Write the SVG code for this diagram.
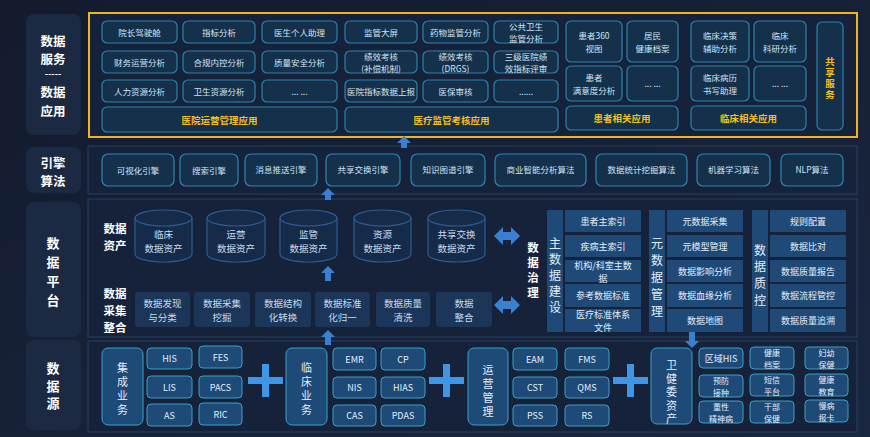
<svg xmlns="http://www.w3.org/2000/svg" width="870" height="437" viewBox="0 0 870 437">
<defs>
<linearGradient id="bg" x1="0" y1="0" x2="1" y2="1">
<stop offset="0" stop-color="#131b2d"/>
<stop offset="1" stop-color="#1a2741"/>
</linearGradient>
<style>
text{font-family:"Noto Sans CJK SC","Noto Sans",sans-serif;text-anchor:middle;dominant-baseline:central}
.v{writing-mode:vertical-rl}
.lbl{fill:#1b2a42}
.lt{fill:#ffffff;font-size:12.5px;font-weight:bold}
.lv{fill:#ffffff;font-size:13px;font-weight:bold}
.lt2{fill:#ffffff;font-size:11.5px;font-weight:bold}
.frame{fill:#16223a;stroke:#26405f;stroke-width:1}
.tb{fill:#15304b;stroke:#2a82ac;stroke-width:1.2}
.tt{fill:#cfe3f3;font-size:8.5px}
.yt{fill:#f4c01e;font-size:9.5px;font-weight:bold}
.eb{fill:#15304b;stroke:#2a86b2;stroke-width:1.2}
.cyl{fill:#162a4a;stroke:#2e5c90;stroke-width:1.2}
.ct{fill:#c9dcef;font-size:9.5px}
.pb{fill:#1b3658}
.pt{fill:#c9dcef;font-size:9.5px}
.gb{fill:#1f4a78}
.gt{fill:#e3eef8;font-size:9px}
.vt{fill:#e3eef8;font-size:12px}
.vs{fill:#e3eef8;font-size:11px}
.sb{fill:#1e4a78;stroke:#3a9fc8;stroke-width:1}
.st{fill:#e3eef8;font-size:9px}
.st2{fill:#e3eef8;font-size:8px}
.arr{fill:#3b7fd0}
.plus{fill:#3f96e6}
</style>
</defs>
<rect width="870" height="437" fill="url(#bg)"/>

<!-- left labels -->
<g id="label-service">
<rect class="lbl" x="26" y="14" width="55" height="121" rx="8"/>
<text class="lt" x="53" y="40"><tspan x="53" dy="0">数据</tspan><tspan x="53" dy="18.2">服务</tspan><tspan x="53" dy="15" style="font-size:9px">-----</tspan><tspan x="53" dy="18.2">数据</tspan><tspan x="53" dy="18.2">应用</tspan></text>
</g>
<g id="label-engine">
<rect class="lbl" x="26" y="147" width="55" height="46" rx="8"/>
<text class="lt" x="53" y="161.5"><tspan x="53" dy="0">引擎</tspan><tspan x="53" dy="18.2">算法</tspan></text>
</g>
<g id="label-platform">
<rect class="lbl" x="26" y="202" width="55" height="135" rx="8"/>
<text class="lv v" x="53" y="274.5" style="letter-spacing:6px">数据平台</text>
</g>
<g id="label-source">
<rect class="lbl" x="26" y="340" width="55" height="90" rx="8"/>
<text class="lv v" x="53" y="388" style="letter-spacing:4.5px">数据源</text>
</g>

<!-- frames -->
<rect class="frame" x="88" y="146" width="769" height="48"/>
<rect class="frame" x="88" y="199" width="769" height="138"/>
<rect class="frame" x="88" y="341" width="769" height="91"/>
<rect x="89" y="13" width="768" height="124" fill="#16223a" stroke="#f0b323" stroke-width="2"/>

<!-- service section -->
<g id="service">
<g id="s-r1">
<rect class="tb" x="102" y="21" width="75" height="22" rx="5"/><text class="tt" x="139.5" y="32">院长驾驶舱</text>
<rect class="tb" x="183" y="21" width="72" height="22" rx="5"/><text class="tt" x="219" y="32">指标分析</text>
<rect class="tb" x="262" y="21" width="75" height="22" rx="5"/><text class="tt" x="299.5" y="32">医生个人助理</text>
<rect class="tb" x="345" y="21" width="72" height="22" rx="5"/><text class="tt" x="381" y="32">监管大屏</text>
<rect class="tb" x="423" y="21" width="65" height="22" rx="5"/><text class="tt" x="455.5" y="32">药物监管分析</text>
<rect class="tb" x="494" y="21" width="64" height="22" rx="5"/><text class="tt" x="526" y="25.7"><tspan x="526" dy="0">公共卫生</tspan><tspan x="526" dy="12.6">监管分析</tspan></text>
</g>
<g id="s-r2">
<rect class="tb" x="102" y="51" width="75" height="22" rx="5"/><text class="tt" x="139.5" y="62">财务运营分析</text>
<rect class="tb" x="183" y="51" width="72" height="22" rx="5"/><text class="tt" x="219" y="62">合规内控分析</text>
<rect class="tb" x="262" y="51" width="75" height="22" rx="5"/><text class="tt" x="299.5" y="62">质量安全分析</text>
<rect class="tb" x="345" y="51" width="72" height="22" rx="5"/><text class="tt" x="381" y="55.7"><tspan x="381" dy="0">绩效考核</tspan><tspan x="381" dy="12.6">(补偿机制)</tspan></text>
<rect class="tb" x="423" y="51" width="65" height="22" rx="5"/><text class="tt" x="455.5" y="55.7"><tspan x="455.5" dy="0">绩效考核</tspan><tspan x="455.5" dy="12.6">(DRGS)</tspan></text>
<rect class="tb" x="494" y="51" width="64" height="22" rx="5"/><text class="tt" x="526" y="55.7"><tspan x="526" dy="0">三级医院绩</tspan><tspan x="526" dy="12.6">效指标评审</tspan></text>
</g>
<g id="s-r3">
<rect class="tb" x="102" y="80" width="75" height="22" rx="5"/><text class="tt" x="139.5" y="91">人力资源分析</text>
<rect class="tb" x="183" y="80" width="72" height="22" rx="5"/><text class="tt" x="219" y="91">卫生资源分析</text>
<rect class="tb" x="262" y="80" width="75" height="22" rx="5"/><text class="tt" x="299.5" y="91">... ...</text>
<rect class="tb" x="345" y="80" width="72" height="22" rx="5"/><text class="tt" x="381" y="91">医院指标数据上报</text>
<rect class="tb" x="423" y="80" width="65" height="22" rx="5"/><text class="tt" x="455.5" y="91">医保审核</text>
<rect class="tb" x="494" y="80" width="64" height="22" rx="5"/><text class="tt" x="526" y="91">......</text>
</g>
<g id="s-bars">
<rect class="tb" x="102" y="107" width="235" height="25" rx="5"/><text class="yt" x="219.5" y="119.5">医院运营管理应用</text>
<rect class="tb" x="345" y="107" width="213" height="25" rx="5"/><text class="yt" x="451.5" y="119.5">医疗监管考核应用</text>
</g>
<g id="s-patient">
<rect class="tb" x="566" y="21" width="56" height="41" rx="5"/><text class="tt" x="594" y="35"><tspan x="594" dy="0">患者360</tspan><tspan x="594" dy="12.6">视图</tspan></text>
<rect class="tb" x="627" y="21" width="51" height="41" rx="5"/><text class="tt" x="652.5" y="35"><tspan x="652.5" dy="0">居民</tspan><tspan x="652.5" dy="12.6">健康档案</tspan></text>
<rect class="tb" x="566" y="66" width="56" height="35" rx="5"/><text class="tt" x="594" y="77"><tspan x="594" dy="0">患者</tspan><tspan x="594" dy="12.6">满意度分析</tspan></text>
<rect class="tb" x="627" y="66" width="51" height="35" rx="5"/><text class="tt" x="652.5" y="83">... ...</text>
<rect class="tb" x="566" y="106" width="112" height="24" rx="5"/><text class="yt" x="622" y="118">患者相关应用</text>
</g>
<g id="s-clinical">
<rect class="tb" x="691" y="21" width="58" height="41" rx="5"/><text class="tt" x="720" y="35"><tspan x="720" dy="0">临床决策</tspan><tspan x="720" dy="12.6">辅助分析</tspan></text>
<rect class="tb" x="754" y="21" width="52" height="41" rx="5"/><text class="tt" x="780" y="35"><tspan x="780" dy="0">临床</tspan><tspan x="780" dy="12.6">科研分析</tspan></text>
<rect class="tb" x="691" y="66" width="58" height="35" rx="5"/><text class="tt" x="720" y="77"><tspan x="720" dy="0">临床病历</tspan><tspan x="720" dy="12.6">书写助理</tspan></text>
<rect class="tb" x="754" y="66" width="52" height="35" rx="5"/><text class="tt" x="780" y="83">... ...</text>
<rect class="tb" x="691" y="106" width="115" height="24" rx="5"/><text class="yt" x="748.5" y="118">临床相关应用</text>
</g>
<g id="s-shared">
<rect class="tb" x="817" y="22" width="26" height="108" rx="5"/>
<text class="yt v" x="830" y="78.5" style="letter-spacing:1.5px">共享服务</text>
</g>
</g>

<!-- engine row -->
<g id="engine">
<rect class="eb" x="102" y="154" width="72" height="32" rx="6"/><text class="tt" x="138" y="170">可视化引擎</text>
<rect class="eb" x="180" y="154" width="58" height="32" rx="6"/><text class="tt" x="209" y="170">搜索引擎</text>
<rect class="eb" x="245" y="154" width="72" height="32" rx="6"/><text class="tt" x="281" y="169">消息推送引擎</text>
<rect class="eb" x="326" y="154" width="74" height="32" rx="6"/><text class="tt" x="363" y="169">共享交换引擎</text>
<rect class="eb" x="411" y="154" width="74" height="32" rx="6"/><text class="tt" x="448" y="169">知识图谱引擎</text>
<rect class="eb" x="495" y="154" width="91" height="32" rx="6"/><text class="tt" x="540.5" y="169">商业智能分析算法</text>
<rect class="eb" x="596" y="154" width="91" height="32" rx="6"/><text class="tt" x="641.5" y="169">数据统计挖掘算法</text>
<rect class="eb" x="697" y="154" width="73" height="32" rx="6"/><text class="tt" x="733.5" y="169">机器学习算法</text>
<rect class="eb" x="781" y="154" width="62" height="32" rx="6"/><text class="tt" x="812" y="169">NLP算法</text>
</g>

<!-- data assets -->
<g id="assets">
<text class="lt2" x="115" y="228"><tspan x="115" dy="0">数据</tspan><tspan x="115" dy="16.8">资产</tspan></text>
<g id="cyl-1"><path class="cyl" d="M135,218 V254 A28.5,8 0 0 0 192,254 V218"/><ellipse class="cyl" cx="163.5" cy="218" rx="28.5" ry="8"/><text class="ct" x="163.5" y="233.5"><tspan x="163.5" dy="0">临床</tspan><tspan x="163.5" dy="14">数据资产</tspan></text></g>
<g id="cyl-2"><path class="cyl" d="M207,218 V254 A29,8 0 0 0 265,254 V218"/><ellipse class="cyl" cx="236" cy="218" rx="29" ry="8"/><text class="ct" x="236" y="233.5"><tspan x="236" dy="0">运营</tspan><tspan x="236" dy="14">数据资产</tspan></text></g>
<g id="cyl-3"><path class="cyl" d="M280,218 V254 A28.5,8 0 0 0 337,254 V218"/><ellipse class="cyl" cx="308.5" cy="218" rx="28.5" ry="8"/><text class="ct" x="308.5" y="233.5"><tspan x="308.5" dy="0">监管</tspan><tspan x="308.5" dy="14">数据资产</tspan></text></g>
<g id="cyl-4"><path class="cyl" d="M354,218 V254 A28.5,8 0 0 0 411,254 V218"/><ellipse class="cyl" cx="382.5" cy="218" rx="28.5" ry="8"/><text class="ct" x="382.5" y="233.5"><tspan x="382.5" dy="0">资源</tspan><tspan x="382.5" dy="14">数据资产</tspan></text></g>
<g id="cyl-5"><path class="cyl" d="M428,218 V254 A28.5,8 0 0 0 485,254 V218"/><ellipse class="cyl" cx="456.5" cy="218" rx="28.5" ry="8"/><text class="ct" x="456.5" y="233.5"><tspan x="456.5" dy="0">共享交换</tspan><tspan x="456.5" dy="14">数据资产</tspan></text></g>
</g>

<!-- data collection -->
<g id="collect">
<text class="lt2" x="115" y="293"><tspan x="115" dy="0">数据</tspan><tspan x="115" dy="16.8">采集</tspan><tspan x="115" dy="16.8">整合</tspan></text>
<rect class="pb" x="135" y="292" width="55" height="35" rx="3"/><text class="pt" x="162.5" y="302.5"><tspan x="162.5" dy="0">数据发现</tspan><tspan x="162.5" dy="14">与分类</tspan></text>
<rect class="pb" x="194" y="292" width="56" height="35" rx="3"/><text class="pt" x="222" y="302.5"><tspan x="222" dy="0">数据采集</tspan><tspan x="222" dy="14">挖掘</tspan></text>
<rect class="pb" x="255" y="292" width="56" height="35" rx="3"/><text class="pt" x="283" y="302.5"><tspan x="283" dy="0">数据结构</tspan><tspan x="283" dy="14">化转换</tspan></text>
<rect class="pb" x="315" y="292" width="55" height="35" rx="3"/><text class="pt" x="342.5" y="302.5"><tspan x="342.5" dy="0">数据标准</tspan><tspan x="342.5" dy="14">化归一</tspan></text>
<rect class="pb" x="376" y="292" width="54" height="35" rx="3"/><text class="pt" x="403" y="302.5"><tspan x="403" dy="0">数据质量</tspan><tspan x="403" dy="14">清洗</tspan></text>
<rect class="pb" x="436" y="292" width="56" height="35" rx="3"/><text class="pt" x="464" y="302.5"><tspan x="464" dy="0">数据</tspan><tspan x="464" dy="14">整合</tspan></text>
</g>

<!-- governance -->
<g id="governance">
<text class="lt2 v" x="533" y="272" style="letter-spacing:3.5px">数据治理</text>
<g id="g-master">
<rect class="gb" x="547" y="210" width="16" height="122"/>
<text class="vt v" x="555" y="277" style="letter-spacing:4px">主数据建设</text>
<rect class="gb" x="565" y="210" width="76" height="22"/><text class="gt" x="603" y="221">患者主索引</text>
<rect class="gb" x="565" y="235" width="76" height="22"/><text class="gt" x="603" y="246">疾病主索引</text>
<rect class="gb" x="565" y="260" width="76" height="22"/><text class="gt" x="603" y="264.5"><tspan x="603" dy="0">机构/科室主数</tspan><tspan x="603" dy="13.1">据</tspan></text>
<rect class="gb" x="565" y="284" width="76" height="23"/><text class="gt" x="603" y="295.5">参考数据标准</text>
<rect class="gb" x="565" y="309" width="76" height="23"/><text class="gt" x="603" y="314"><tspan x="603" dy="0">医疗标准体系</tspan><tspan x="603" dy="13.1">文件</tspan></text>
</g>
<g id="g-meta">
<rect class="gb" x="649" y="210" width="16" height="122"/>
<text class="vt v" x="657" y="280" style="letter-spacing:5.2px">元数据管理</text>
<rect class="gb" x="667" y="210" width="76" height="22"/><text class="gt" x="705" y="221">元数据采集</text>
<rect class="gb" x="667" y="235" width="76" height="22"/><text class="gt" x="705" y="246">元模型管理</text>
<rect class="gb" x="667" y="260" width="76" height="22"/><text class="gt" x="705" y="271">数据影响分析</text>
<rect class="gb" x="667" y="284" width="76" height="23"/><text class="gt" x="705" y="295.5">数据血缘分析</text>
<rect class="gb" x="667" y="309" width="76" height="23"/><text class="gt" x="705" y="320.5">数据地图</text>
</g>
<g id="g-quality">
<rect class="gb" x="752" y="210" width="16" height="122"/>
<text class="vt v" x="760" y="277.5" style="letter-spacing:4.7px">数据质控</text>
<rect class="gb" x="770" y="210" width="76" height="22"/><text class="gt" x="808" y="221">规则配置</text>
<rect class="gb" x="770" y="235" width="76" height="22"/><text class="gt" x="808" y="246">数据比对</text>
<rect class="gb" x="770" y="260" width="76" height="22"/><text class="gt" x="808" y="271">数据质量报告</text>
<rect class="gb" x="770" y="284" width="76" height="23"/><text class="gt" x="808" y="295.5">数据流程管控</text>
<rect class="gb" x="770" y="309" width="76" height="23"/><text class="gt" x="808" y="320.5">数据质量追溯</text>
</g>
</g>

<!-- data sources -->
<g id="sources">
<g id="src-integrated">
<rect class="sb" x="102" y="348" width="41" height="77" rx="6"/>
<text class="vs v" x="122.5" y="390.5" style="letter-spacing:3px">集成业务</text>
<rect class="sb" x="147" y="348" width="45" height="21" rx="4"/><text class="st" x="169.5" y="358.5">HIS</text>
<rect class="sb" x="199" y="346" width="43" height="22" rx="4"/><text class="st" x="220.5" y="357">FES</text>
<rect class="sb" x="147" y="376" width="45" height="22" rx="4"/><text class="st" x="169.5" y="387">LIS</text>
<rect class="sb" x="199" y="376" width="43" height="22" rx="4"/><text class="st" x="220.5" y="387">PACS</text>
<rect class="sb" x="147" y="404" width="45" height="22" rx="4"/><text class="st" x="169.5" y="415">AS</text>
<rect class="sb" x="199" y="403" width="43" height="22" rx="4"/><text class="st" x="220.5" y="414">RIC</text>
</g>
<g id="src-clinical">
<rect class="sb" x="286" y="348" width="41" height="77" rx="6"/>
<text class="vs v" x="306.5" y="390.5" style="letter-spacing:3px">临床业务</text>
<rect class="sb" x="333" y="348" width="43" height="22" rx="4"/><text class="st" x="354.5" y="359">EMR</text>
<rect class="sb" x="381" y="348" width="44" height="22" rx="4"/><text class="st" x="403" y="359">CP</text>
<rect class="sb" x="333" y="377" width="43" height="21" rx="4"/><text class="st" x="354.5" y="387.5">NIS</text>
<rect class="sb" x="381" y="377" width="44" height="21" rx="4"/><text class="st" x="403" y="387.5">HIAS</text>
<rect class="sb" x="333" y="405" width="43" height="21" rx="4"/><text class="st" x="354.5" y="415.5">CAS</text>
<rect class="sb" x="381" y="405" width="44" height="21" rx="4"/><text class="st" x="403" y="415.5">PDAS</text>
</g>
<g id="src-ops">
<rect class="sb" x="468" y="348" width="40" height="77" rx="6"/>
<text class="vs v" x="488" y="392.5" style="letter-spacing:3px">运营管理</text>
<rect class="sb" x="513" y="348" width="44" height="22" rx="4"/><text class="st" x="535" y="359">EAM</text>
<rect class="sb" x="565" y="348" width="44" height="22" rx="4"/><text class="st" x="587" y="359">FMS</text>
<rect class="sb" x="513" y="377" width="44" height="21" rx="4"/><text class="st" x="535" y="387.5">CST</text>
<rect class="sb" x="565" y="377" width="44" height="21" rx="4"/><text class="st" x="587" y="387.5">QMS</text>
<rect class="sb" x="513" y="405" width="44" height="21" rx="4"/><text class="st" x="535" y="415.5">PSS</text>
<rect class="sb" x="565" y="405" width="44" height="21" rx="4"/><text class="st" x="587" y="415.5">RS</text>
</g>
<g id="src-health">
<rect class="sb" x="651" y="348" width="41" height="76" rx="6"/>
<text class="vs v" x="671.5" y="393.5" style="letter-spacing:2.5px">卫健委资产</text>
<rect class="sb" x="699" y="348" width="44" height="20" rx="4"/><text class="st" x="721" y="358">区域HIS</text>
<rect class="sb" x="699" y="375" width="44" height="22" rx="4"/><text class="st2" x="721" y="380.2"><tspan x="721" dy="0">预防</tspan><tspan x="721" dy="11.7">接种</tspan></text>
<rect class="sb" x="699" y="401" width="44" height="22" rx="4"/><text class="st2" x="721" y="406.2"><tspan x="721" dy="0">重性</tspan><tspan x="721" dy="11.7">精神病</tspan></text>
<rect class="sb" x="750" y="347" width="44" height="22" rx="4"/><text class="st2" x="772" y="352.2"><tspan x="772" dy="0">健康</tspan><tspan x="772" dy="11.7">档案</tspan></text>
<rect class="sb" x="750" y="374" width="44" height="22" rx="4"/><text class="st2" x="772" y="379.2"><tspan x="772" dy="0">短信</tspan><tspan x="772" dy="11.7">平台</tspan></text>
<rect class="sb" x="750" y="401" width="44" height="22" rx="4"/><text class="st2" x="772" y="406.2"><tspan x="772" dy="0">干部</tspan><tspan x="772" dy="11.7">保健</tspan></text>
<rect class="sb" x="805" y="347" width="43" height="22" rx="4"/><text class="st2" x="826.5" y="352.2"><tspan x="826.5" dy="0">妇幼</tspan><tspan x="826.5" dy="11.7">保健</tspan></text>
<rect class="sb" x="805" y="374" width="43" height="22" rx="4"/><text class="st2" x="826.5" y="379.2"><tspan x="826.5" dy="0">健康</tspan><tspan x="826.5" dy="11.7">教育</tspan></text>
<rect class="sb" x="805" y="400" width="43" height="22" rx="4"/><text class="st2" x="826.5" y="405.2"><tspan x="826.5" dy="0">慢病</tspan><tspan x="826.5" dy="11.7">报卡</tspan></text>
</g>
</g>

<!-- connectors -->
<g id="connectors">
<path class="plus" d="M262,364 h7 v13 h14 v7 h-14 v13 h-7 v-13 h-14 v-7 h14 z"/>
<path class="plus" d="M443,364 h7 v13 h14 v7 h-14 v13 h-7 v-13 h-14 v-7 h14 z"/>
<path class="plus" d="M627,364 h7 v13 h14 v7 h-14 v13 h-7 v-13 h-14 v-7 h14 z"/>
<path class="arr" d="M494,236 l9,-9 v5 h8 v-5 l9,9 l-9,9 v-5 h-8 v5 z"/>
<path class="arr" d="M494,305 l9,-9 v5 h8 v-5 l9,9 l-9,9 v-5 h-8 v5 z"/>
<path class="arr" d="M404,136 l-7,7 h4 v5 h6 v-5 h4 z"/>
<path class="arr" d="M328,188 l-7,7 h4 v5 h6 v-5 h4 z"/>
<path class="arr" d="M328,266 l-7,7 h4 v8 h6 v-8 h4 z"/>
<path class="arr" d="M328,330 l-7,7 h4 v8 h6 v-8 h4 z"/>
<path class="arr" d="M692,348 l-7,-7 h4 v-9 h6 v9 h4 z"/>
</g>
</svg>
